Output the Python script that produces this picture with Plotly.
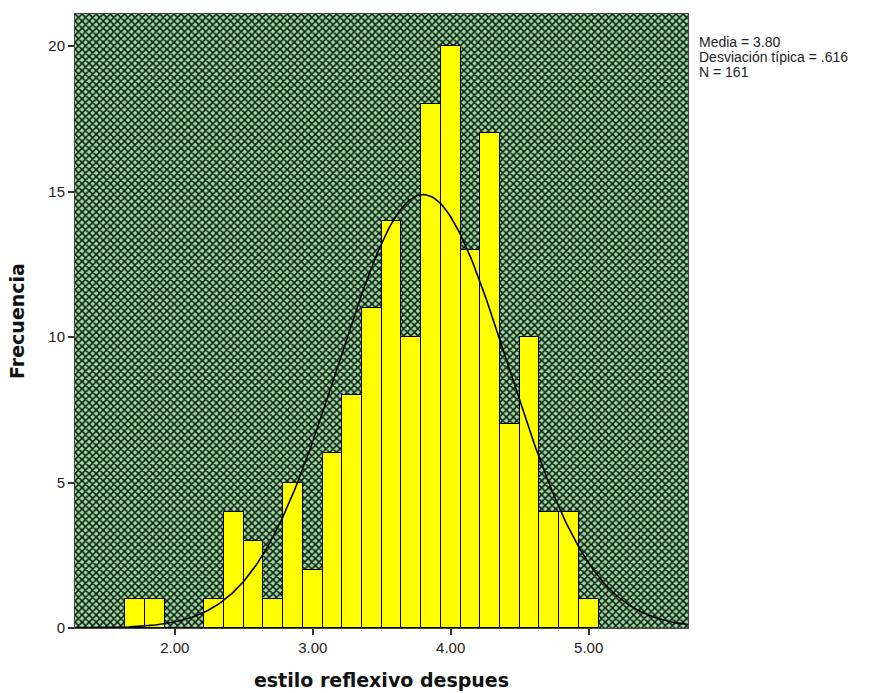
import numpy as np
import plotly.graph_objects as go

# Data: bin centres are k/7 (bin width 1/7)
bin_k = list(range(12, 36))
counts = [1, 1, 0, 0, 1, 4, 3, 1, 5, 2, 6, 8, 11, 14, 10, 18, 20, 13, 17, 7, 10, 4, 4, 1]
bin_width = 1 / 7
centers = [k / 7 for k in bin_k]
mean_v = 3.80
sd_v = 0.616
n_v = 161
x_ticks = [2, 3, 4, 5]
x_tick_labels = ["2.00", "3.00", "4.00", "5.00"]
y_ticks = [0, 5, 10, 15, 20]
stats_lines = ["Media = 3.80", "Desviación típica = .616", "N = 161"]

x_range = [1.277, 5.72]
y_range = [0, 21.1]

fig = go.Figure()

# patterned background of the plot area (a single wide bar underneath)
fig.add_trace(go.Bar(
    x=[(x_range[0] + x_range[1]) / 2], y=[y_range[1]], width=x_range[1] - x_range[0],
    marker=dict(color="#0c2311", line=dict(width=0),
                pattern=dict(shape="x", size=5, solidity=0.55,
                             fgcolor="#0c2311", bgcolor="#a4d8a6", fillmode="replace")),
    hoverinfo="skip", showlegend=False))

fig.add_trace(go.Bar(
    x=centers, y=counts, width=bin_width,
    marker=dict(color="#ffff00", line=dict(color="#000000", width=1)),
    showlegend=False))

xc = np.linspace(x_range[0], x_range[1], 300)
yc = n_v * bin_width / (sd_v * np.sqrt(2 * np.pi)) * np.exp(-0.5 * ((xc - mean_v) / sd_v) ** 2)
fig.add_trace(go.Scatter(x=xc, y=yc, mode="lines",
                         line=dict(color="#000000", width=1.6), showlegend=False))

plot_top_px, plot_h_px = 14, 614
annotations = []
for i, line in enumerate(stats_lines):
    py = 42 + 15 * i
    annotations.append(dict(
        xref="paper", yref="paper", x=1.014, y=(plot_top_px + plot_h_px - py) / plot_h_px,
        xanchor="left", yanchor="middle", align="left", showarrow=False,
        text=line, font=dict(size=14, color="#222222")))

fig.update_layout(
    width=872, height=693,
    margin=dict(l=75, r=184, t=14, b=65),
    paper_bgcolor="white", plot_bgcolor="white",
    barmode="overlay", bargap=0,
    font=dict(family="Liberation Sans, Arial, sans-serif", color="#222222", size=13),
    xaxis=dict(range=x_range, tickvals=x_ticks, ticktext=x_tick_labels, automargin=False,
               showgrid=False, zeroline=False, ticks="outside", ticklen=6,
               tickcolor="#333333", tickwidth=2, showline=True, linecolor="#444444",
               linewidth=1, mirror=True, tickfont=dict(size=15),
               title=dict(text="estilo reflexivo despues", standoff=18,
                          font=dict(family="DejaVu Sans", size=19, color="#111111", weight="bold"))),
    yaxis=dict(range=y_range, tickvals=y_ticks, automargin=False,
               showgrid=False, zeroline=False, ticks="outside", ticklen=6,
               tickcolor="#333333", tickwidth=2, showline=True, linecolor="#444444",
               linewidth=1, mirror=True, tickfont=dict(size=15),
               title=dict(text="Frecuencia", standoff=18,
                          font=dict(family="DejaVu Sans", size=19, color="#111111", weight="bold"))),
    annotations=annotations,
)

fig.write_html("out.html")
